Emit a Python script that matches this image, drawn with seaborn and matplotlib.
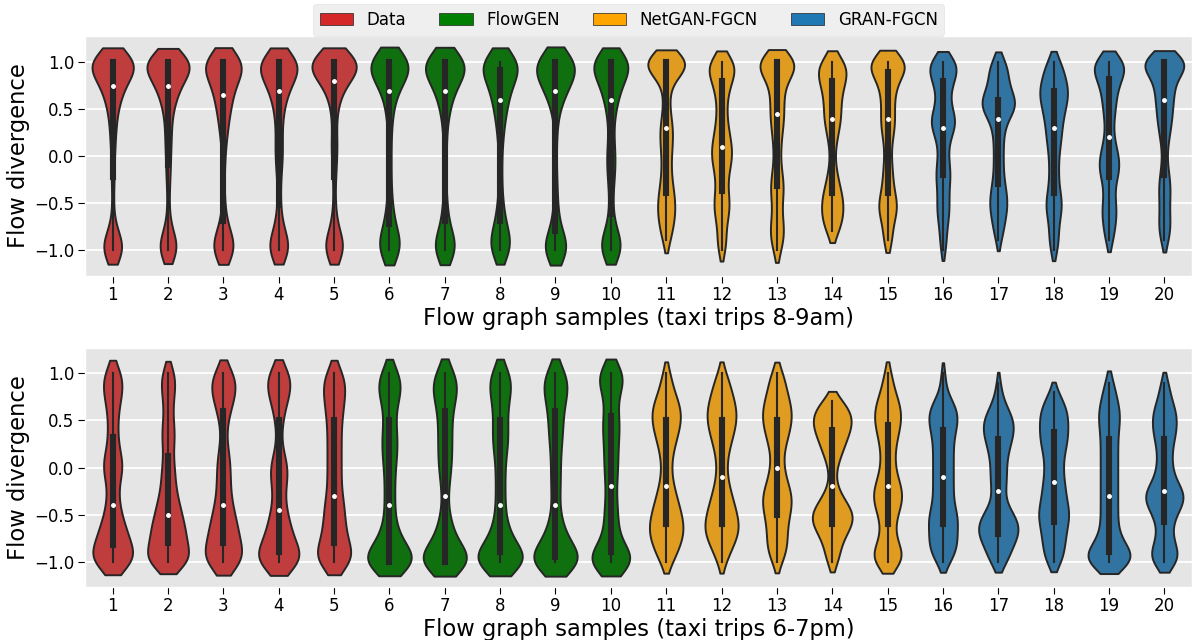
import numpy as np
import pandas as pd
import matplotlib
matplotlib.use("Agg")
import matplotlib.pyplot as plt
from matplotlib.patches import Patch
import seaborn as sns

# value grid of the flow-divergence observations
levels = [-1.0, -0.9, -0.8, -0.7, -0.6, -0.5, -0.4, -0.3, -0.2, -0.1, 0.0,
          0.1, 0.2, 0.3, 0.4, 0.5, 0.6, 0.7, 0.8, 0.9, 1.0]
samples = ["1", "2", "3", "4", "5", "6", "7", "8", "9", "10",
           "11", "12", "13", "14", "15", "16", "17", "18", "19", "20"]
models = ["Data", "FlowGEN", "NetGAN-FGCN", "GRAN-FGCN"]
sample_model = ["Data"] * 5 + ["FlowGEN"] * 5 + ["NetGAN-FGCN"] * 5 + ["GRAN-FGCN"] * 5
colors = ["#d62728", "#008000", "#ffa500", "#1f77b4"]

# counts of observations at each level, per sample (taxi trips 8-9am)
am_counts = [
    [16, 4, 2, 1, 0, 1, 0, 1, 1, 1, 1, 1, 2, 2, 2, 3, 4, 8, 6, 10, 34],
    [13, 4, 2, 1, 1, 0, 1, 1, 1, 2, 1, 2, 2, 2, 2, 3, 4, 8, 7, 10, 33],
    [16, 5, 3, 2, 1, 1, 0, 1, 0, 1, 1, 1, 2, 3, 3, 4, 6, 6, 7, 9, 28],
    [15, 4, 3, 2, 1, 1, 1, 1, 1, 2, 3, 2, 2, 2, 2, 3, 4, 6, 8, 10, 27],
    [14, 4, 3, 1, 1, 1, 0, 1, 1, 1, 2, 2, 2, 1, 1, 2, 3, 5, 7, 11, 37],
    [15, 6, 4, 3, 2, 2, 1, 1, 1, 1, 1, 1, 1, 1, 2, 2, 3, 5, 8, 10, 30],
    [16, 5, 3, 2, 2, 1, 1, 1, 0, 1, 1, 1, 1, 1, 2, 3, 4, 6, 8, 11, 30],
    [12, 6, 5, 3, 2, 2, 1, 1, 1, 1, 1, 1, 2, 2, 3, 4, 5, 6, 8, 9, 25],
    [19, 5, 2, 2, 2, 1, 1, 1, 1, 0, 1, 0, 1, 1, 1, 2, 4, 8, 9, 11, 28],
    [15, 5, 3, 2, 1, 1, 1, 2, 2, 3, 3, 2, 2, 1, 2, 3, 4, 6, 7, 7, 28],
    [0, 3, 4, 5, 6, 6, 5, 4, 3, 3, 3, 4, 4, 5, 3, 2, 2, 2, 3, 6, 33],
    [3, 3, 2, 3, 5, 5, 4, 3, 4, 5, 7, 6, 5, 4, 3, 3, 3, 4, 6, 8, 12],
    [3, 4, 5, 4, 2, 3, 4, 5, 3, 2, 2, 2, 3, 3, 5, 4, 4, 4, 5, 7, 26],
    [0, 0, 5, 6, 7, 7, 6, 4, 3, 2, 1, 2, 3, 4, 6, 5, 5, 6, 8, 10, 11],
    [0, 5, 2, 3, 7, 8, 3, 4, 3, 3, 2, 2, 3, 5, 5, 4, 4, 5, 6, 9, 24],
    [2, 2, 2, 3, 4, 4, 3, 4, 5, 4, 3, 3, 4, 8, 9, 5, 4, 4, 7, 8, 13],
    [0, 2, 3, 4, 5, 6, 5, 4, 3, 3, 3, 3, 3, 4, 5, 12, 12, 7, 6, 6, 6],
    [3, 3, 3, 3, 5, 6, 4, 3, 3, 3, 3, 4, 5, 5, 6, 7, 9, 10, 8, 6, 6],
    [0, 3, 3, 4, 5, 4, 3, 3, 6, 7, 6, 4, 3, 2, 3, 4, 4, 5, 6, 10, 15],
    [0, 3, 4, 4, 3, 3, 4, 4, 3, 2, 1, 2, 3, 4, 5, 5, 6, 6, 7, 6, 31],
]

# counts of observations at each level, per sample (taxi trips 6-7pm)
pm_counts = [
    [14, 8, 7, 6, 5, 3, 3, 2, 2, 3, 5, 4, 2, 2, 2, 2, 2, 3, 4, 4, 5],
    [15, 8, 8, 8, 7, 6, 5, 4, 3, 3, 3, 2, 2, 3, 3, 2, 2, 2, 3, 3, 4],
    [14, 8, 7, 7, 6, 5, 4, 3, 3, 3, 3, 3, 2, 1, 1, 2, 3, 4, 6, 6, 6],
    [18, 9, 7, 6, 5, 4, 3, 2, 3, 4, 5, 3, 1, 1, 1, 2, 2, 4, 5, 6, 7],
    [12, 8, 6, 5, 5, 4, 5, 3, 3, 3, 3, 3, 3, 3, 3, 3, 4, 4, 5, 5, 5],
    [22, 6, 5, 4, 2, 2, 2, 2, 2, 2, 2, 3, 3, 3, 3, 2, 2, 3, 5, 5, 5],
    [25, 7, 5, 4, 3, 2, 1, 1, 2, 2, 3, 3, 3, 3, 3, 3, 3, 4, 6, 6, 6],
    [23, 8, 6, 4, 3, 2, 2, 2, 2, 2, 2, 2, 3, 4, 3, 3, 3, 3, 5, 5, 6],
    [23, 7, 6, 4, 3, 2, 1, 2, 2, 2, 2, 2, 2, 3, 3, 3, 3, 4, 5, 6, 6],
    [22, 6, 4, 3, 3, 3, 3, 2, 2, 3, 3, 3, 3, 3, 4, 4, 3, 2, 3, 6, 10],
    [3, 4, 6, 7, 7, 6, 5, 4, 3, 2, 2, 2, 3, 4, 5, 6, 6, 5, 3, 2, 2],
    [2, 3, 5, 7, 7, 6, 5, 4, 3, 2, 2, 2, 3, 4, 5, 6, 6, 5, 4, 3, 2],
    [2, 4, 4, 4, 4, 5, 6, 6, 5, 3, 3, 2, 3, 4, 5, 6, 6, 5, 4, 3, 3],
    [3, 3, 4, 6, 9, 10, 7, 4, 2, 1, 2, 3, 5, 6, 8, 9, 8, 5, 0, 0, 0],
    [9, 7, 4, 3, 3, 4, 6, 7, 6, 4, 3, 3, 3, 4, 5, 6, 6, 5, 3, 2, 2],
    [3, 5, 6, 5, 6, 6, 4, 4, 4, 4, 4, 4, 4, 4, 5, 6, 6, 4, 1, 1, 1],
    [4, 4, 6, 8, 8, 6, 3, 2, 3, 3, 3, 3, 4, 5, 6, 6, 4, 2, 1, 1, 0],
    [4, 4, 5, 5, 6, 7, 6, 5, 5, 4, 4, 4, 5, 6, 6, 6, 6, 4, 2, 0, 0],
    [13, 8, 5, 3, 3, 3, 3, 3, 3, 3, 3, 3, 3, 3, 3, 4, 4, 3, 2, 2, 0],
    [7, 6, 4, 3, 3, 5, 7, 10, 6, 4, 3, 3, 3, 4, 5, 5, 5, 3, 2, 2, 0],
]

xlabels = ["Flow graph samples (taxi trips 8-9am)", "Flow graph samples (taxi trips 6-7pm)"]
ylabel = "Flow divergence"


def build_frame(counts):
    rows = []
    for s, m, c in zip(samples, sample_model, counts):
        vals = np.repeat(levels, c)
        rows.append(pd.DataFrame({"sample": s, "model": m, "value": vals}))
    return pd.concat(rows, ignore_index=True)


plt.style.use("ggplot")
plt.rcParams.update({
    "font.family": ["DejaVu Sans"],
    "axes.facecolor": "#E5E5E5",
    "grid.color": "white",
    "grid.linewidth": 1.3,
    "xtick.color": "black",
    "ytick.color": "black",
    "xtick.labelcolor": "black",
    "ytick.labelcolor": "black",
    "axes.labelcolor": "black",
})

fig = plt.figure(figsize=(11.93, 6.40), dpi=100)
ax_top = fig.add_axes([85 / 1193, 1 - 276 / 640, 1107 / 1193, 240 / 640])
ax_bot = fig.add_axes([85 / 1193, 1 - 587 / 640, 1107 / 1193, 239 / 640])

palette = dict(zip(models, colors))

for ax, counts, xl in zip([ax_top, ax_bot], [am_counts, pm_counts], xlabels):
    df = build_frame(counts)
    sns.violinplot(
        data=df, x="sample", y="value", hue="model",
        order=samples, hue_order=models, palette=palette,
        dodge=False, bw_method=0.2, cut=1, density_norm="area",
        common_norm=True, inner="box",
        inner_kws=dict(box_width=4.4, whis_width=1.5, marker="o", markersize=2.6),
        linewidth=1.4, linecolor="#262626", saturation=0.75,
        legend=False, ax=ax,
    )
    ax.grid(axis="x", visible=False)
    ax.grid(axis="y", visible=True)
    ax.set_axisbelow(True)
    ax.set_xlabel(xl, fontsize=16.3, labelpad=2)
    ax.set_ylabel(ylabel, fontsize=16.3, labelpad=3)
    ax.tick_params(axis="both", labelsize=12, length=5, pad=2.5, color="black")
    ax.set_yticks([-1.0, -0.5, 0.0, 0.5, 1.0])

handles = [Patch(facecolor=c, edgecolor="#222222", label=m) for m, c in zip(models, colors)]
fig.legend(handles=handles, loc="upper center", bbox_to_anchor=(0.527, 1.006),
           ncol=4, fontsize=12, frameon=True, facecolor="#EBEBEB",
           edgecolor="#DDDDDD", borderpad=0.4)

fig.savefig("out.png", dpi=100)
